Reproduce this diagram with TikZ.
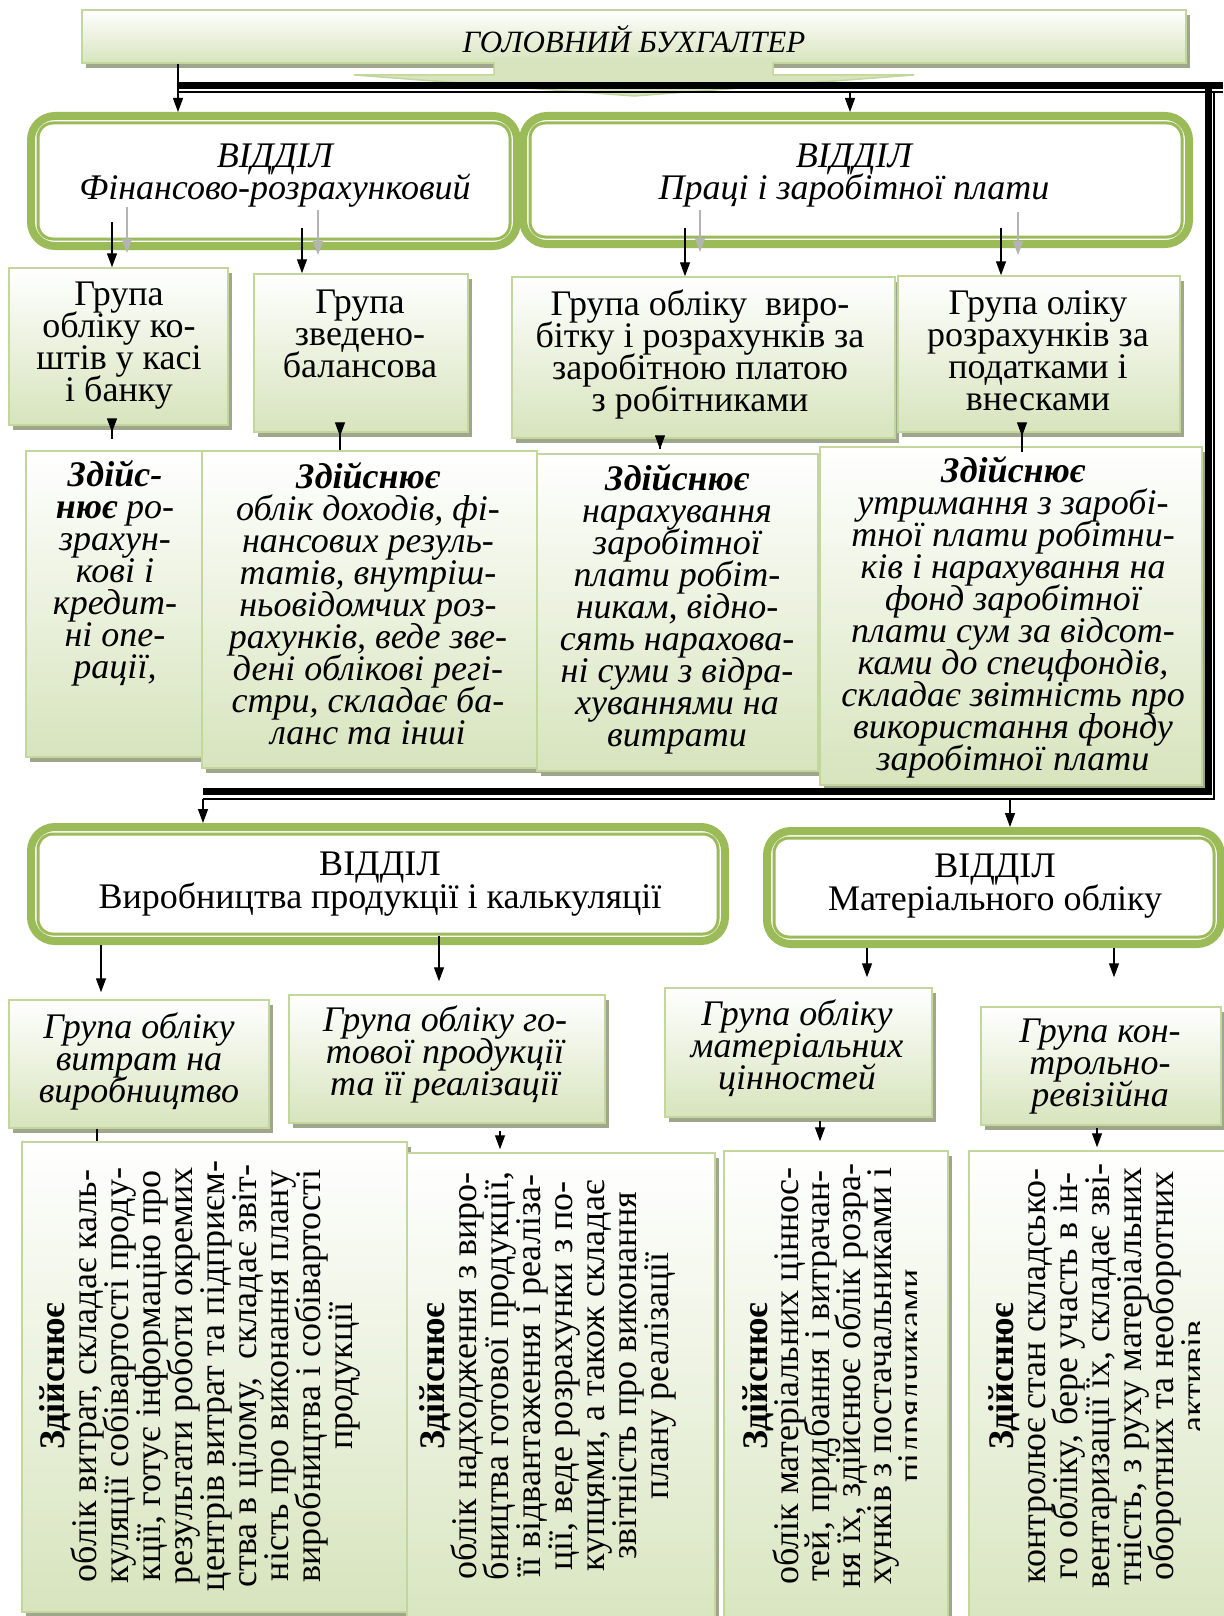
\documentclass[tikz,border=0pt]{standalone}
\usepackage{fontspec}
\setmainfont{Liberation Serif}
\usetikzlibrary{arrows.meta,shadows}
\setlength{\lineskiplimit}{-100pt}

\definecolor{boxgreen}{RGB}{215,228,189}
\definecolor{boxline}{RGB}{195,214,155}
\definecolor{deptgreen}{RGB}{155,187,89}
\definecolor{shadowgray}{RGB}{160,166,140}
\definecolor{arrowgray}{RGB}{180,180,180}

\begin{document}
\begin{tikzpicture}[x=1pt,y=-1pt,
    grp/.style={draw=boxline,line width=1.5pt,top color=white,bottom color=boxgreen,
        drop shadow={shadow xshift=4pt,shadow yshift=-5pt,fill=shadowgray,opacity=1},inner sep=0pt},
    dept/.style={draw=deptgreen,line width=8pt,rounded corners=24pt,fill=white,inner sep=0pt},
    deptin/.style={draw=deptgreen,line width=3pt,rounded corners=15pt},
    txt/.style={align=center,inner sep=0pt,font=\fontsize{36}{32}\selectfont},
    itxt/.style={txt,font=\fontsize{36}{32}\selectfont\itshape},
    rtxt/.style={txt,rotate=90},
    arr/.style={line width=1.3pt,-{Triangle[length=14pt,width=10pt]}},
    garr/.style={arr,draw=arrowgray},
    bus/.style={line width=7pt},
    busthin/.style={line width=2pt}
]

% Chief accountant
\node[grp] (gb) at (634,36.5) [minimum width=1104pt,minimum height=53pt] {};
\fill[boxgreen] (494,57) -- (494,75) -- (354,75) -- (634,96) -- (914,75) -- (773,75) -- (773,57) -- cycle;
\draw[boxline,line width=1.5pt] (494,62) -- (494,75) -- (354,75) -- (634,96) -- (914,75) -- (773,75) -- (773,62);
\node[itxt,font=\fontsize{31}{32}\selectfont\itshape] (gbt) at (634,39) {ГОЛОВНИЙ БУХГАЛТЕР};

% Departments
\node[dept] (fin) at (274,181) [minimum width=486pt,minimum height=130pt] {};
\node[dept] (lab) at (856,180) [minimum width=666pt,minimum height=128pt] {};
\node[dept] (prod) at (378,884) [minimum width=694pt,minimum height=114pt] {};
\node[dept] (mat) at (994,887.5) [minimum width=454pt,minimum height=113pt] {};
\foreach \n in {fin,lab,prod,mat}
    \draw[deptin] ([shift={(11,11)}]\n.north west) rectangle ([shift={(-11,-11)}]\n.south east);

\node[itxt] (fint) at (275,176) {ВІДДІЛ\\Фінансово-розрахунковий};
\node[itxt] (labt) at (854,176) {ВІДДІЛ\\Праці і заробітної плати};
\node[txt,font=\fontsize{36}{33}\selectfont] (prodt) at (380,884) {ВІДДІЛ\\Виробництва продукції і калькуляції};
\node[txt,font=\fontsize{36}{33}\selectfont] (matt) at (995,886) {ВІДДІЛ\\Матеріального обліку};

% Groups, upper row
\node[grp] (g1) at (118.5,346.5) [minimum width=219pt,minimum height=157pt] {};
\node[grp] (g2) at (361,353) [minimum width=214pt,minimum height=158pt] {};
\node[grp] (g3) at (703.5,357.5) [minimum width=383pt,minimum height=161pt] {};
\node[grp] (g4) at (1039,354) [minimum width=282pt,minimum height=156pt] {};
\node[txt] (g1t) at (119,346) {Група\\обліку ко-\\штів у касі\\і банку};
\node[txt] (g2t) at (360,334) {Група\\зведено-\\балансова};
\node[txt] (g3t) at (700,354) {Група обліку~ виро-\\бітку і розрахунків за\\заробітною платою\\з робітниками};
\node[txt] (g4t) at (1038,351) {Група оліку\\розрахунків за\\податками і\\внесками};

% Duties, upper row
\node[grp] (d1) at (114,604) [minimum width=176pt,minimum height=306pt] {};
\node[grp] (d2) at (369.5,609.5) [minimum width=335pt,minimum height=317pt] {};
\node[grp] (d3) at (677.5,612.5) [minimum width=281pt,minimum height=317pt] {};
\node[grp] (d4) at (1011,616) [minimum width=382pt,minimum height=338pt] {};
\node[itxt] (d1t) at (115,573) {\textbf{Здійс-}\\\textbf{нює} ро-\\зрахун-\\кові і\\кредит-\\ні опе-\\рації,};
\node[itxt] (d2t) at (368,604) {\textbf{Здійснює}\\облік доходів, фі-\\нансових резуль-\\татів, внутріш-\\ньовідомчих роз-\\рахунків, веде зве-\\дені облікові регі-\\стри, складає ба-\\ланс та інші};
\node[itxt] (d3t) at (677,609) {\textbf{Здійснює}\\нарахування\\заробітної\\плати робіт-\\никам, відно-\\сять нарахова-\\ні суми з відра-\\хуваннями на\\витрати};
\node[itxt] (d4t) at (1013,617) {\textbf{Здійснює}\\утримання з заробі-\\тної плати робітни-\\ків і нарахування на\\фонд заробітної\\плати сум за відсот-\\ками до спецфондів,\\складає звітність про\\використання фонду\\заробітної плати};

% Groups, lower row
\node[grp] (g5) at (139,1064) [minimum width=260pt,minimum height=128pt] {};
\node[grp] (g6) at (447,1059) [minimum width=316pt,minimum height=128pt] {};
\node[grp] (g7) at (798.5,1052.5) [minimum width=267pt,minimum height=129pt] {};
\node[grp] (g8) at (1101,1066) [minimum width=240pt,minimum height=118pt] {};
\node[itxt] (g5t) at (139,1061) {Група обліку\\витрат на\\виробництво};
\node[itxt] (g6t) at (445,1054) {Група обліку го-\\тової продукції\\та її реалізації};
\node[itxt] (g7t) at (797,1048) {Група обліку\\матеріальних\\цінностей};
\node[itxt] (g8t) at (1100,1067) {Група кон-\\трольно-\\ревізійна};

% Duties, lower row
\node[grp] (d5) at (214.5,1377) [minimum width=385pt,minimum height=470pt] {};
\node[grp] (d6) at (561,1401.5) [minimum width=308pt,minimum height=497pt] {};
\node[grp] (d7) at (836,1400.5) [minimum width=224pt,minimum height=499pt] {};
\node[grp] (d8) at (1104.5,1400.5) [minimum width=271pt,minimum height=499pt] {};
\node[rtxt] (d5t) at (200,1376) {\textbf{Здійснює}\\облік витрат, складає каль-\\куляції собівартості проду-\\кції, готує інформацію про\\результати роботи окремих\\центрів витрат та підприєм-\\ства в цілому,~ складає звіт-\\ність про виконання плану\\виробництва і собівартості\\продукції};
\node[rtxt] (d6t) at (548,1376) {\textbf{Здійснює}\\облік надходження з виро-\\бництва готової продукції,\\її відвантаження і реаліза-\\ції, веде розрахунки з по-\\купцями, а також складає\\звітність про виконання\\плану реалізації};
\begin{scope}
\clip (d7.north west) rectangle ([shift={(-32,0)}]d7.south east);
\node[rtxt,font=\fontsize{36}{31}\selectfont] (d7t) at (836,1376) {\textbf{Здійснює}\\облік матеріальних цінноc-\\тей, придбання і витрачан-\\ня їх, здійснює облік розра-\\хунків з постачальниками і\\підрядчиками};
\end{scope}
\begin{scope}
\clip (d8.north west) rectangle ([shift={(-41,0)}]d8.south east);
\node[rtxt] (d8t) at (1097,1376) {\textbf{Здійснює}\\контролює стан складсько-\\го обліку, бере участь в ін-\\вентаризації їх, складає зві-\\тність, з руху матеріальних\\оборотних та необоротних\\активів};
\end{scope}

% Bus lines
\coordinate (bustop) at (850,93);
\coordinate (busl) at (203,799);
\coordinate (busr) at (1010,799);
\draw[bus] (178,85.5) -- (1223,85.5) (1208,85.5) -- (1208,795) (203,791.5) -- (1211,791.5);
\draw[busthin] (178,92.5) -- (1223,92.5) (1214,92) -- (1214,800) (203,799) -- (1215,799);

% Arrows to departments
\draw[arr] (gb.south -| 178,0) -- (fin.north -| 178,0);
\draw[arr] (bustop) -- (lab.north -| bustop);
\draw[arr] (busl) -- (prod.north -| busl);
\draw[arr] (busr) -- (mat.north -| busr);

% Arrows to groups
\draw[arr,shorten <=-28pt] (fin.south -| 112,0) -- (g1.north -| 112,0);
\draw[arr,shorten <=-22pt] (fin.south -| 302,0) -- (g2.north -| 302,0);
\draw[arr,shorten <=-20pt] (lab.south -| 685,0) -- (g3.north -| 685,0);
\draw[arr,shorten <=-20pt] (lab.south -| 1001,0) -- (g4.north -| 1001,0);
\coordinate (gr1) at (127,207);
\coordinate (gr2) at (318,210);
\coordinate (gr3) at (700,210);
\coordinate (gr4) at (1018,212);
\draw[garr,line width=1.6pt] (gr1) -- ++(0,46);
\draw[garr,line width=1.6pt] (gr2) -- ++(0,45);
\draw[garr,line width=1.6pt] (gr3) -- ++(0,42);
\draw[garr,line width=1.6pt] (gr4) -- ++(0,43);
\draw[arr,shorten >=7pt] (prod.south -| 101,0) -- (g5.north -| 101,0);
\draw[arr,shorten <=-9pt,shorten >=13pt] (prod.south -| 439,0) -- (g6.north -| 439,0);
\draw[arr,shorten >=10pt] (mat.south -| 867,0) -- (g7.north -| 867,0);
\draw[arr,shorten >=29pt] (mat.south -| 1114,0) -- (g8.north -| 1114,0);

% Arrows to duties
\draw[arr,shorten <=-13pt,shorten >=18pt] (g1.south -| 112,0) -- (d1.north -| 112,0);
\draw[arr,shorten <=-17pt,shorten >=14pt] (g2.south -| 340,0) -- (d2.north -| 340,0);
\draw[arr,shorten <=-10pt,shorten >=4pt] (g3.south -| 660,0) -- (d3.north -| 660,0);
\draw[arr,shorten <=-19pt,shorten >=10pt] (g4.south -| 1022,0) -- (d4.north -| 1022,0);
\draw[line width=1.3pt] (g5.south -| 97,0) -- (d5.north -| 97,0);
\draw[arr,shorten <=7pt,shorten >=3pt] (g6.south -| 500,0) -- (d6.north -| 500,0);
\draw[arr,shorten <=3pt,shorten >=9pt] (g7.south -| 820,0) -- (d7.north -| 820,0);
\draw[arr,shorten <=2pt,shorten >=3pt] (g8.south -| 1097,0) -- (d8.north -| 1097,0);

\pgfresetboundingbox
\useasboundingbox (0,0) rectangle (1223,1616);
\end{tikzpicture}
\end{document}
